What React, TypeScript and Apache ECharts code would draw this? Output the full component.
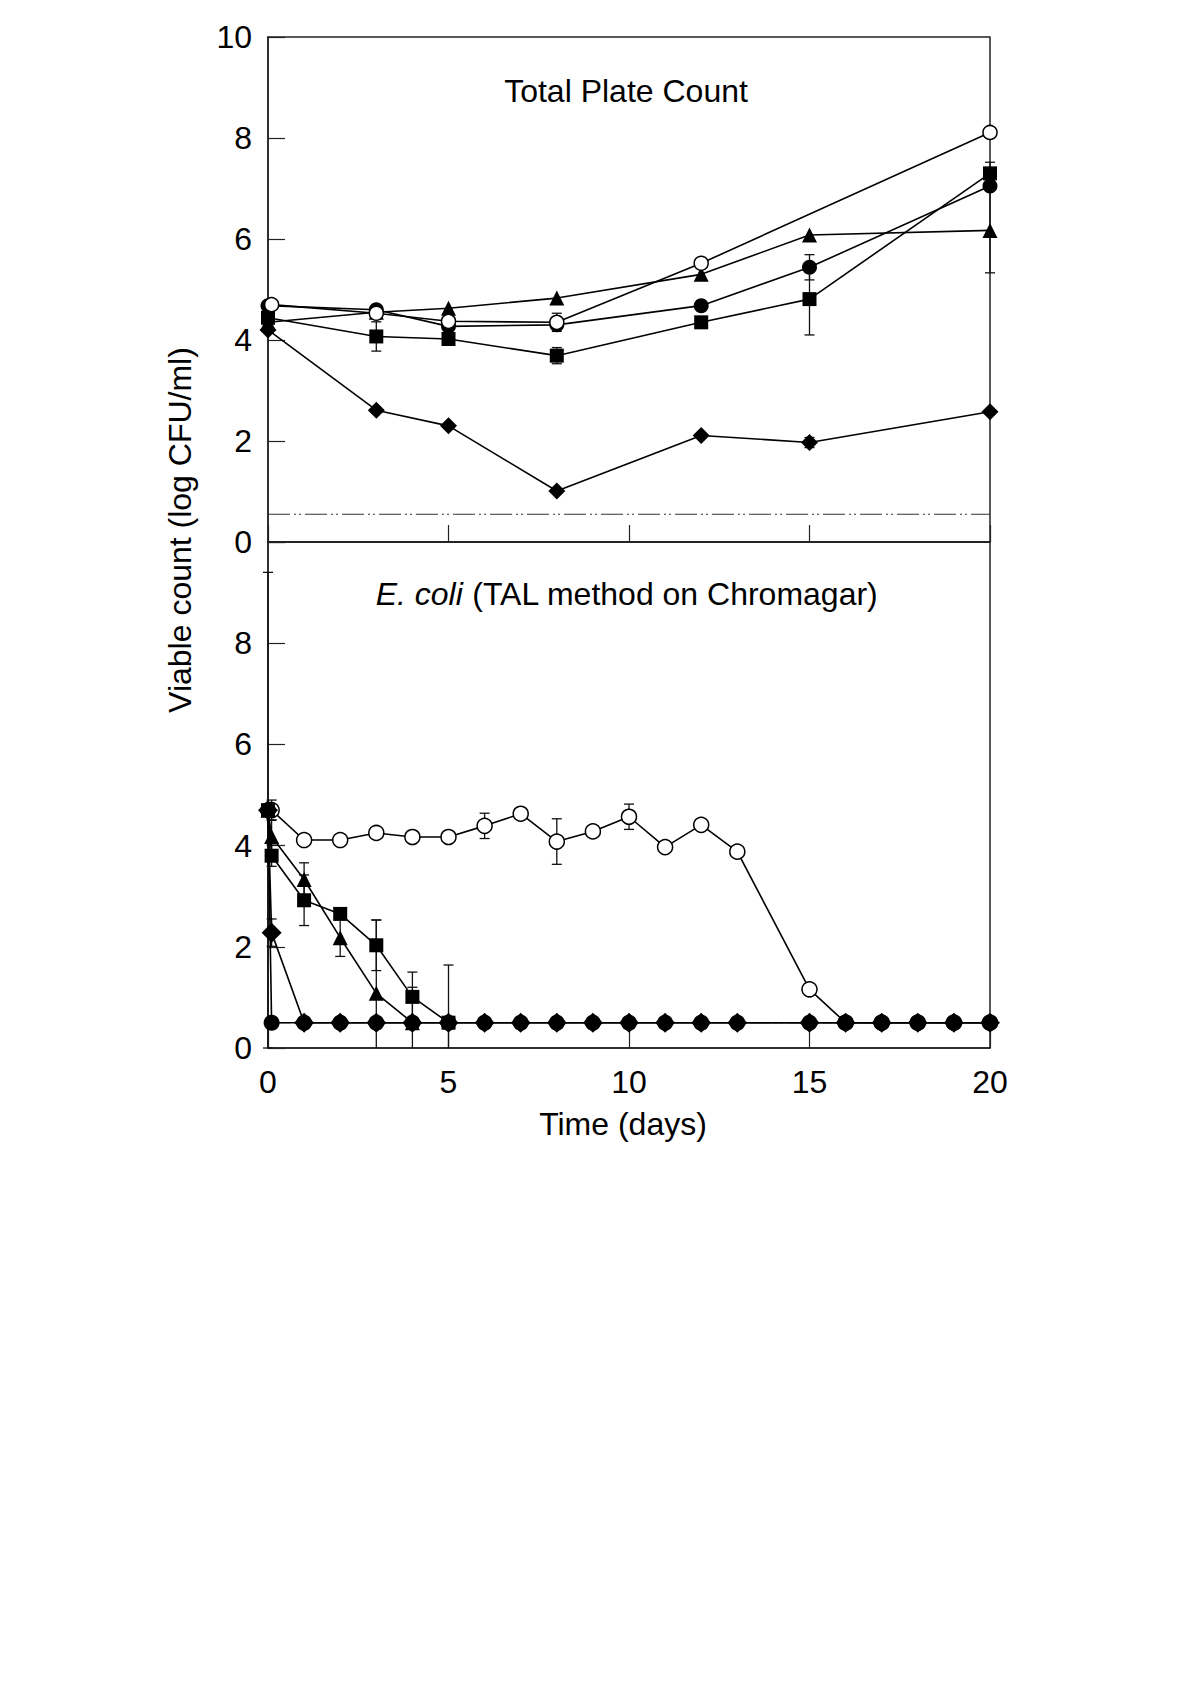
import React, { useEffect, useRef } from "react";
import * as echarts from "echarts";

// ---------- Data: Total Plate Count (top panel) ----------
const TPC_DAYS = [0, 3, 5, 8, 12, 15, 20];
const TPC_OPEN_DAYS = [0.1, 3, 5, 8, 12, 20];
const TPC_OPEN = [4.7, 4.53, 4.37, 4.35, 5.52, 8.11];
const TPC_OPEN_ERR = [0, 0, 0, 0.18, 0, 0];
const TPC_FCIRCLE = [4.68, 4.6, 4.27, 4.3, 4.68, 5.44, 7.05];
const TPC_FCIRCLE_ERR = [0, 0, 0, 0, 0.1, 0.25, 0];
const TPC_SQUARE = [4.44, 4.07, 4.02, 3.69, 4.35, 4.81, 7.3];
const TPC_SQUARE_ERR = [0, 0.29, 0, 0.16, 0, 0.71, 0.22];
const TPC_TRIANGLE = [4.35, 4.55, 4.63, 4.83, 5.3, 6.08, 6.17];
const TPC_TRIANGLE_ERR = [0, 0, 0, 0, 0, 0, 0.84];
const TPC_DIAMOND = [4.2, 2.61, 2.3, 1.01, 2.11, 1.97, 2.58];
const TPC_DIAMOND_ERR = [0, 0, 0, 0, 0, 0.1, 0];
const TPC_LIMIT = 0.55;

// ---------- Data: E. coli (bottom panel) ----------
const EC_OPEN_DAYS = [0.1, 1, 2, 3, 4, 5, 6, 7, 8, 9, 10, 11, 12, 13, 15, 16, 17, 18, 19, 20];
const EC_OPEN = [4.7, 4.11, 4.11, 4.25, 4.17, 4.17, 4.39, 4.63, 4.08, 4.28, 4.57, 3.97, 4.41, 3.88, 1.16, 0.5, 0.5, 0.5, 0.5, 0.5];
const EC_OPEN_ERR = [0.2, 0, 0, 0, 0, 0.1, 0.25, 0.1, 0.45, 0, 0.25, 0.1, 0, 0, 0, 0, 0, 0, 0, 0];

const EC_DAYS = [0, 0.1, 1, 2, 3, 4, 5, 6, 7, 8, 9, 10, 11, 12, 13, 15, 16, 17, 18, 19, 20];
const EC_FCIRCLE = [4.7, 0.5, 0.5, 0.5, 0.5, 0.5, 0.5, 0.5, 0.5, 0.5, 0.5, 0.5, 0.5, 0.5, 0.5, 0.5, 0.5, 0.5, 0.5, 0.5, 0.5];
const EC_FCIRCLE_ERR = [4.7, 0, 0, 0, 0, 0, 0, 0, 0, 0, 0, 0, 0, 0, 0, 0, 0, 0, 0, 0, 0];
const EC_DIAMOND = [4.7, 2.28, 0.5, 0.5, 0.5, 0.5, 0.5, 0.5, 0.5, 0.5, 0.5, 0.5, 0.5, 0.5, 0.5, 0.5, 0.5, 0.5, 0.5, 0.5, 0.5];
const EC_DIAMOND_ERR = [0, 0.27, 0, 0, 0, 0, 0, 0, 0, 0, 0, 0, 0, 0, 0, 0, 0, 0, 0, 0, 0];

const EC_SQUARE_DAYS = [0, 0.1, 1, 2, 3, 4, 5];
const EC_SQUARE = [4.7, 3.8, 2.92, 2.65, 2.03, 1.01, 0.5];
const EC_SQUARE_ERR = [0, 0.21, 0.5, 0, 0.5, 0.49, 1.14];
const EC_TRIANGLE_DAYS = [0, 0.1, 1, 2, 3, 4];
const EC_TRIANGLE = [4.7, 4.18, 3.33, 2.18, 1.08, 0.5];
const EC_TRIANGLE_ERR = [0, 0.33, 0.33, 0.37, 1.45, 0.7];
const EC_LIMIT = 0.5;

const X_TICKS = [0, 5, 10, 15, 20];
const Y_TICKS = [0, 2, 4, 6, 8, 10];

const FONT = '"Liberation Sans", Arial, Helvetica, sans-serif';
const FS = 32;
const AXIS_COLOR = "#222";

function pairs(days: number[], vals: number[]) {
  return days.map((d, i) => [d, vals[i]]);
}
function errs(days: number[], vals: number[], e: number[]) {
  const out: number[][] = [];
  days.forEach((d, i) => {
    if (e[i] > 0) out.push([d, vals[i] - e[i], vals[i] + e[i]]);
  });
  return out;
}

const errorRender = (params: any, api: any) => {
  const x = api.value(0);
  const lo = api.value(1);
  const hi = api.value(2);
  const loC = Math.max(lo, 0);
  const pTop = api.coord([x, hi]);
  const pBot = api.coord([x, loC]);
  const cap = 5;
  const style = { stroke: "#111", lineWidth: 1.3 };
  const children: any[] = [
    { type: "line", shape: { x1: pTop[0], y1: pTop[1], x2: pBot[0], y2: pBot[1] }, style },
    { type: "line", shape: { x1: pTop[0] - cap, y1: pTop[1], x2: pTop[0] + cap, y2: pTop[1] }, style },
  ];
  if (lo >= 0) {
    children.push({ type: "line", shape: { x1: pBot[0] - cap, y1: pBot[1], x2: pBot[0] + cap, y2: pBot[1] }, style });
  }
  return { type: "group", children };
};

function lineSeries(grid: number, data: number[][], symbol: string, size: number, open: boolean, z: number) {
  return {
    type: "line",
    xAxisIndex: grid,
    yAxisIndex: grid,
    data,
    symbol,
    symbolSize: size,
    showSymbol: true,
    lineStyle: { color: "#000", width: 1.6 },
    itemStyle: open
      ? { color: "#fff", borderColor: "#000", borderWidth: 1.5 }
      : { color: "#000", borderColor: "#000", borderWidth: 0 },
    z,
    silent: true,
  };
}

function errSeries(grid: number, data: number[][]) {
  return {
    type: "custom",
    xAxisIndex: grid,
    yAxisIndex: grid,
    data,
    renderItem: errorRender,
    encode: { x: 0, y: [1, 2] },
    z: 1,
    silent: true,
  };
}

function limitSeries(grid: number, v: number) {
  return {
    type: "line",
    xAxisIndex: grid,
    yAxisIndex: grid,
    data: [
      [X_TICKS[0], v],
      [X_TICKS[X_TICKS.length - 1], v],
    ],
    symbol: "none",
    lineStyle: { color: "#333", width: 1.2, type: [22, 4, 2, 3, 2, 4] },
    z: 0,
    silent: true,
  };
}

function xAxis(grid: number, labels: boolean) {
  return {
    type: "value",
    gridIndex: grid,
    min: X_TICKS[0],
    max: X_TICKS[X_TICKS.length - 1],
    interval: 5,
    axisLine: { show: true, lineStyle: { color: AXIS_COLOR, width: 1.5 } },
    axisTick: { show: true, inside: true, length: 17, lineStyle: { color: AXIS_COLOR, width: 1.2 } },
    axisLabel: { show: labels, fontSize: FS, color: "#000", fontFamily: FONT, margin: 18 },
    splitLine: { show: false },
  };
}

function yAxis(grid: number, hideTop: boolean) {
  return {
    type: "value",
    gridIndex: grid,
    min: Y_TICKS[0],
    max: Y_TICKS[Y_TICKS.length - 1],
    interval: 2,
    axisLine: { show: true, lineStyle: { color: AXIS_COLOR, width: 1.5 } },
    axisTick: { show: true, inside: true, length: 17, lineStyle: { color: AXIS_COLOR, width: 1.2 } },
    axisLabel: {
      show: true,
      fontSize: FS,
      color: "#000",
      fontFamily: FONT,
      margin: 16,
      formatter: (v: number) => (hideTop && v === Y_TICKS[Y_TICKS.length - 1] ? "" : String(v)),
    },
    splitLine: { show: false },
  };
}

export default function App() {
  const ref = useRef<HTMLDivElement>(null);
  useEffect(() => {
    if (!ref.current) return;
    const chart = echarts.init(ref.current, null, { renderer: "svg" });
    const option: any = {
      animation: false,
      backgroundColor: "#fff",
      grid: [
        { left: 268, top: 37, width: 722, height: 505, show: true, borderColor: AXIS_COLOR, borderWidth: 1.5, backgroundColor: "transparent" },
        { left: 268, top: 542, width: 722, height: 506, show: true, borderColor: AXIS_COLOR, borderWidth: 1.5, backgroundColor: "transparent" },
      ],
      xAxis: [xAxis(0, false), xAxis(1, true)],
      yAxis: [yAxis(0, false), yAxis(1, true)],
      graphic: [
        {
          type: "text",
          x: 626,
          y: 91,
          style: { text: "Total Plate Count", font: `${FS}px ${FONT}`, fill: "#000", align: "center", verticalAlign: "middle" },
        },
        {
          type: "text",
          x: 627,
          y: 594,
          style: {
            text: "{i|E. coli} (TAL method on Chromagar)",
            font: `${FS}px ${FONT}`,
            fill: "#000",
            align: "center",
            verticalAlign: "middle",
            rich: { i: { fontStyle: "italic", fontSize: FS, fontFamily: FONT, fill: "#000" } },
          },
        },
        {
          type: "text",
          x: 623,
          y: 1124,
          style: { text: "Time (days)", font: `${FS}px ${FONT}`, fill: "#000", align: "center", verticalAlign: "middle" },
        },
        {
          type: "text",
          x: 180,
          y: 530,
          rotation: Math.PI / 2,
          style: { text: "Viable count (log CFU/ml)", font: `${FS}px ${FONT}`, fill: "#000", align: "center", verticalAlign: "middle" },
        },
      ],
      series: [
        // top panel
        limitSeries(0, TPC_LIMIT),
        errSeries(0, [
          ...errs(TPC_OPEN_DAYS, TPC_OPEN, TPC_OPEN_ERR),
          ...errs(TPC_DAYS, TPC_FCIRCLE, TPC_FCIRCLE_ERR),
          ...errs(TPC_DAYS, TPC_SQUARE, TPC_SQUARE_ERR),
          ...errs(TPC_DAYS, TPC_TRIANGLE, TPC_TRIANGLE_ERR),
          ...errs(TPC_DAYS, TPC_DIAMOND, TPC_DIAMOND_ERR),
        ]),
        lineSeries(0, pairs(TPC_DAYS, TPC_DIAMOND), "diamond", 17, false, 3),
        lineSeries(0, pairs(TPC_DAYS, TPC_SQUARE), "rect", 14, false, 4),
        lineSeries(0, pairs(TPC_DAYS, TPC_TRIANGLE), "triangle", 15, false, 5),
        lineSeries(0, pairs(TPC_DAYS, TPC_FCIRCLE), "circle", 15, false, 6),
        lineSeries(0, pairs(TPC_OPEN_DAYS, TPC_OPEN), "circle", 14, true, 7),
        // bottom panel
        limitSeries(1, EC_LIMIT),
        errSeries(1, [
          ...errs(EC_OPEN_DAYS, EC_OPEN, EC_OPEN_ERR),
          ...errs(EC_DAYS, EC_FCIRCLE, EC_FCIRCLE_ERR),
          ...errs(EC_SQUARE_DAYS, EC_SQUARE, EC_SQUARE_ERR),
          ...errs(EC_TRIANGLE_DAYS, EC_TRIANGLE, EC_TRIANGLE_ERR),
          ...errs(EC_DAYS, EC_DIAMOND, EC_DIAMOND_ERR),
        ]),
        lineSeries(1, pairs(EC_OPEN_DAYS, EC_OPEN), "circle", 15, true, 3),
        lineSeries(1, pairs(EC_SQUARE_DAYS, EC_SQUARE), "rect", 14, false, 4),
        lineSeries(1, pairs(EC_TRIANGLE_DAYS, EC_TRIANGLE), "triangle", 15, false, 5),
        lineSeries(1, pairs(EC_DAYS, EC_DIAMOND), "diamond", 20, false, 6),
        lineSeries(1, pairs(EC_DAYS, EC_FCIRCLE), "circle", 16, false, 7),
      ],
    };
    chart.setOption(option);
    return () => chart.dispose();
  }, []);
  return (
    <div
      ref={ref}
      style={{ position: "absolute", left: 0, top: 0, width: 1200, height: 1699, background: "#fff" }}
    />
  );
}
